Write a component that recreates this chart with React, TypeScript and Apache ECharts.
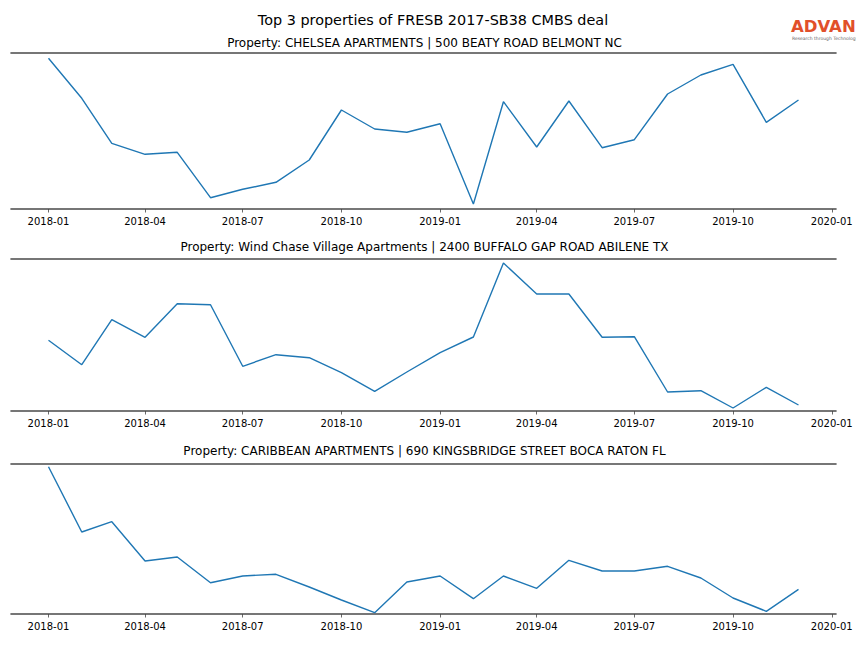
import React, { useEffect, useRef } from "react";
import * as echarts from "echarts";

// Monthly observation dates
const months = [
  "2018-01", "2018-02", "2018-03", "2018-04", "2018-05", "2018-06",
  "2018-07", "2018-08", "2018-09", "2018-10", "2018-11", "2018-12",
  "2019-01", "2019-02", "2019-03", "2019-04", "2019-05", "2019-06",
  "2019-07", "2019-08", "2019-09", "2019-10", "2019-11", "2019-12",
];

// Tick labels (quarterly)
const tickLabels = [
  "2018-01", "2018-04", "2018-07", "2018-10",
  "2019-01", "2019-04", "2019-07", "2019-10", "2020-01",
];

// Series values (relative units)
const chelsea = [150.7, 110.7, 65.7, 54.7, 56.7, 11.3, 19.7, 26.7, 49, 99, 80, 76.7,
  85.3, 5, 107.3, 62, 108, 61.3, 69.3, 115, 134, 144.7, 86.7, 109];
const windChase = [70.7, 46.3, 91.3, 73.7, 107.3, 106.3, 44.7, 56.3, 53.3, 38.3, 19.7, 39,
  58.3, 74, 148, 117, 117, 73.7, 74.3, 19, 20.3, 3, 23.7, 6];
const caribbean = [147.3, 82, 92.3, 53, 57, 31.3, 38, 39.7, 27, 14, 1.3, 32,
  38, 15.3, 38, 25.7, 53.7, 43, 43, 47.7, 36, 16, 2.7, 24.7];

const panelTitles = [
  "Property: CHELSEA APARTMENTS | 500 BEATY ROAD BELMONT NC",
  "Property: Wind Chase Village Apartments | 2400 BUFFALO GAP ROAD ABILENE TX",
  "Property: CARIBBEAN APARTMENTS | 690 KINGSBRIDGE STREET BOCA RATON FL",
];
const mainTitle = "Top 3 properties of FRESB 2017-SB38 CMBS deal";

const toTs = (s: string) => {
  const [y, m] = s.split("-").map(Number);
  return Date.UTC(y, m - 1, 1);
};
const fmt = (v: number) => {
  const d = new Date(v);
  return d.getUTCFullYear() + "-" + String(d.getUTCMonth() + 1).padStart(2, "0");
};

export default function App() {
  const ref = useRef<HTMLDivElement>(null);
  useEffect(() => {
    if (!ref.current) return;
    const chart = echarts.init(ref.current, null, { renderer: "svg" });
    const xs = months.map(toTs);
    const first = xs[0];
    const last = xs[xs.length - 1];
    const pad = (last - first) * 0.05;
    const tickVals = tickLabels.map(toTs);
    const seriesData = [chelsea, windChase, caribbean];

    const grids = [
      { left: 11, right: 28, top: 53, height: 156 },
      { left: 11, right: 28, top: 259, height: 152 },
      { left: 11, right: 28, top: 464, height: 150 },
    ];
    const spine = { show: true, lineStyle: { color: "#4a4a4a", width: 1.6 } };
    const font = "DejaVu Sans";

    const xAxis: any[] = [];
    const yAxis: any[] = [];
    grids.forEach((g, i) => {
      xAxis.push({
        type: "value",
        gridIndex: i,
        position: "bottom",
        min: first - pad,
        max: last + pad,
        axisLine: spine,
        axisTick: { show: true, customValues: tickVals, length: 3.5, lineStyle: { color: "#444", width: 0.8 } },
        axisLabel: {
          show: true,
          customValues: tickVals,
          formatter: (v: number) => fmt(v),
          color: "#000",
          fontSize: 10,
          fontFamily: font,
          margin: 7.5,
        },
        splitLine: { show: false },
      });
      xAxis.push({
        type: "value",
        gridIndex: i,
        position: "top",
        min: first - pad,
        max: last + pad,
        axisLine: spine,
        axisTick: { show: false },
        axisLabel: { show: false },
        splitLine: { show: false },
      });
      yAxis.push({
        type: "value",
        gridIndex: i,
        min: 0,
        max: g.height,
        show: false,
        splitLine: { show: false },
      });
    });

    const titleTops = [32, 236, 440];
    const titles: any[] = [
      {
        text: mainTitle,
        left: 428,
        top: 8,
        textAlign: "center",
        textStyle: { fontFamily: font, fontSize: 14.4, fontWeight: "normal", color: "#000" },
      },
      ...panelTitles.map((t, i) => ({
        text: t,
        left: 419.5,
        top: titleTops[i],
        textAlign: "center",
        textStyle: { fontFamily: font, fontSize: 12, fontWeight: "normal", color: "#000" },
      })),
    ];

    chart.setOption({
      animation: false,
      backgroundColor: "#fff",
      title: titles,
      grid: grids,
      xAxis,
      yAxis,
      series: seriesData.map((vals, i) => ({
        type: "line",
        xAxisIndex: i * 2,
        yAxisIndex: i,
        data: vals.map((v, j) => [xs[j], v]),
        showSymbol: false,
        symbol: "none",
        lineStyle: { color: "#1f77b4", width: 1.4 },
        clip: false,
      })),
      graphic: [
        {
          type: "text",
          left: 791,
          top: 18,
          style: {
            text: "ADVAN",
            fontFamily: font,
            fontSize: 16.5,
            lineHeight: 16,
            fontWeight: "bold",
            fill: "#e1502a",
          },
        },
        {
          type: "text",
          left: 792,
          top: 36,
          style: {
            text: "Research through Technology",
            fontFamily: font,
            fontSize: 4.5,
            lineHeight: 5,
            fill: "#666",
          },
        },
      ],
    });
    return () => chart.dispose();
  }, []);
  return <div ref={ref} style={{ width: 864, height: 648, margin: -8 }} />;
}
